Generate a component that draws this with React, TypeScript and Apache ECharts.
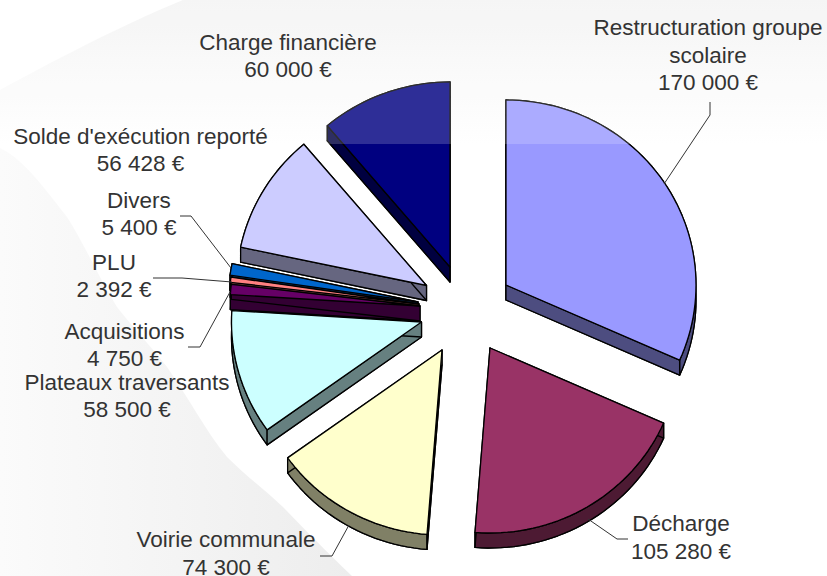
import React, { useEffect, useRef } from "react";
import * as echarts from "echarts";

const names = [
  "Restructuration groupe\nscolaire",
  "Décharge",
  "Voirie communale",
  "Plateaux traversants",
  "Acquisitions",
  "PLU",
  "Divers",
  "Solde d'exécution reporté",
  "Charge financière",
];
const amounts = [170000, 105280, 74300, 58500, 4750, 2392, 5400, 56428, 60000];
const topColors = ["#9999FF", "#993366", "#FFFFCC", "#CCFFFF", "#660066", "#FF8080", "#0066CC", "#CCCCFF", "#000080"];
const sideColors = ["#4D4D80", "#4D1A33", "#808066", "#668080", "#330033", "#804040", "#003366", "#666680", "#000040"];

// Explosion of each slice from the pie's centre
const explodeX = [56, 40, -8, -28.5, -30, -31, -32, -23.5, 0];
const explodeY = [-15, 48, 50, 22, 6, 4, 2, -14.5, -33];

const CX = 450, CY = 300, RX = 190, RY = 185, DEPTH = 15;

// Label centres and leader lines
const labelX = [708, 681, 226, 127, 124.5, 114, 139, 140.5, 288];
const labelY = [55, 537.5, 553.5, 396, 345, 276, 214, 150, 56];
const leaders: number[][][] = [
  [[710, 102], [710, 115], [664, 184]],
  [[628, 539], [617, 539], [588, 519]],
  [[320, 556], [332, 556], [349, 525]],
  [],
  [[188, 347], [200, 347], [230, 292]],
  [[153, 278], [182, 278], [232, 282]],
  [[180, 216], [191, 216], [231, 268]],
  [],
  [],
];

const TOP_SHAPE =
  "M0 90 C50 63 117 27 183 0 L827 0 L827 144 L0 144 Z";
const LEFT_SHAPE =
  "M0 148 C20 158 35 175 67 217 C85 245 100 280 117 307 C135 330 150 345 167 367 C190 400 205 430 227 457 C245 475 265 490 283 507 C305 530 325 550 352 576 L0 576 Z";

echarts.graphic.registerShape("bgTop", echarts.graphic.extendPath(TOP_SHAPE, {}));
echarts.graphic.registerShape("bgLeft", echarts.graphic.extendPath(LEFT_SHAPE, {}));

const total = amounts.reduce((a, b) => a + b, 0);
const euro = (v: number) => String(v).replace(/\B(?=(\d{3})+$)/g, " ") + " €";

function arcPoints(cx: number, cy: number, a0: number, a1: number) {
  const pts: number[][] = [];
  const n = Math.max(2, Math.ceil(Math.abs(a1 - a0) / 0.035));
  for (let i = 0; i <= n; i++) {
    const t = a0 + ((a1 - a0) * i) / n;
    pts.push([cx + RX * Math.sin(t), cy - RY * Math.cos(t)]);
  }
  return pts;
}

const renderSlice = (params: any, api: any) => {
  const i = params.dataIndex;
  const before = amounts.slice(0, i).reduce((a, b) => a + b, 0);
  const a0 = (before / total) * Math.PI * 2;
  const a1 = ((before + api.value(1)) / total) * Math.PI * 2;
  const cx = CX + explodeX[i];
  const cy = CY + explodeY[i];
  const arc = arcPoints(cx, cy, a0, a1);
  const lower = arc.map((p) => [p[0], p[1] + DEPTH]);
  const apex = [cx, cy];
  const apexLow = [cx, cy + DEPTH];
  const base = (9 - i) * 10;
  const line = { stroke: "#000", lineWidth: 1.3, lineJoin: "round" };
  const side = { ...line, fill: sideColors[i] };
  const first = arc[0];
  const last = arc[arc.length - 1];
  return {
    type: "group",
    children: [
      { type: "polygon", z2: base, shape: { points: [apexLow, ...lower] }, style: side },
      { type: "polygon", z2: base + 1, shape: { points: [...arc, ...lower.slice().reverse()] }, style: side },
      { type: "polygon", z2: base + 2, shape: { points: [apex, first, lower[0], apexLow] }, style: side },
      { type: "polygon", z2: base + 3, shape: { points: [apex, last, lower[lower.length - 1], apexLow] }, style: side },
      { type: "polygon", z2: base + 4, shape: { points: [apex, ...arc] }, style: { ...line, fill: topColors[i] } },
    ],
  };
};

const renderGloss = () => ({
  type: "rect",
  shape: { x: 0, y: 0, width: 827, height: 144 },
  style: { fill: "rgba(255,255,255,0.18)" },
});

const renderLabel = (params: any, api: any) => {
  const i = params.dataIndex;
  const children: any[] = [];
  if (leaders[i].length) {
    children.push({
      type: "polyline",
      shape: { points: leaders[i] },
      style: { stroke: "#333", lineWidth: 1, fill: "none" },
    });
  }
  children.push({
    type: "text",
    style: {
      text: `${names[i]}\n${euro(api.value(1))}`,
      x: labelX[i],
      y: labelY[i],
      align: "center",
      verticalAlign: "middle",
      fontFamily: "Liberation Sans",
      fontSize: 22.5,
      lineHeight: 27.5,
      fill: "#333",
    },
  });
  return { type: "group", children };
};

export default function App() {
  const ref = useRef<HTMLDivElement>(null);
  useEffect(() => {
    const chart = echarts.init(ref.current!, null, { renderer: "svg" });
    const data = names.map((n, i) => [n, amounts[i]]);
    chart.setOption({
      animation: false,
      backgroundColor: "#fff",
      graphic: {
        z: -1,
        elements: [
          {
            type: "bgTop",
            silent: true,
            style: {
              fill: new echarts.graphic.LinearGradient(0, 0, 0, 1, [
                { offset: 0, color: "#F3F3F3" },
                { offset: 1, color: "#FFFFFF" },
              ]),
            },
          },
          {
            type: "bgLeft",
            silent: true,
            style: {
              fill: new echarts.graphic.LinearGradient(0, 0, 1, 0, [
                { offset: 0, color: "#FBFBFB" },
                { offset: 1, color: "#EDEDED" },
              ]),
            },
          },
        ],
      },
      series: [
        { type: "custom", coordinateSystem: "none", z: 2, silent: true, data, renderItem: renderSlice, encode: { value: 1 } },
        { type: "custom", coordinateSystem: "none", z: 3, silent: true, data: [[0]], renderItem: renderGloss },
        { type: "custom", coordinateSystem: "none", z: 4, silent: true, data, renderItem: renderLabel, encode: { value: 1 } },
      ],
    });
    return () => chart.dispose();
  }, []);
  return <div ref={ref} style={{ position: "fixed", left: 0, top: 0, width: 827, height: 576 }} />;
}
